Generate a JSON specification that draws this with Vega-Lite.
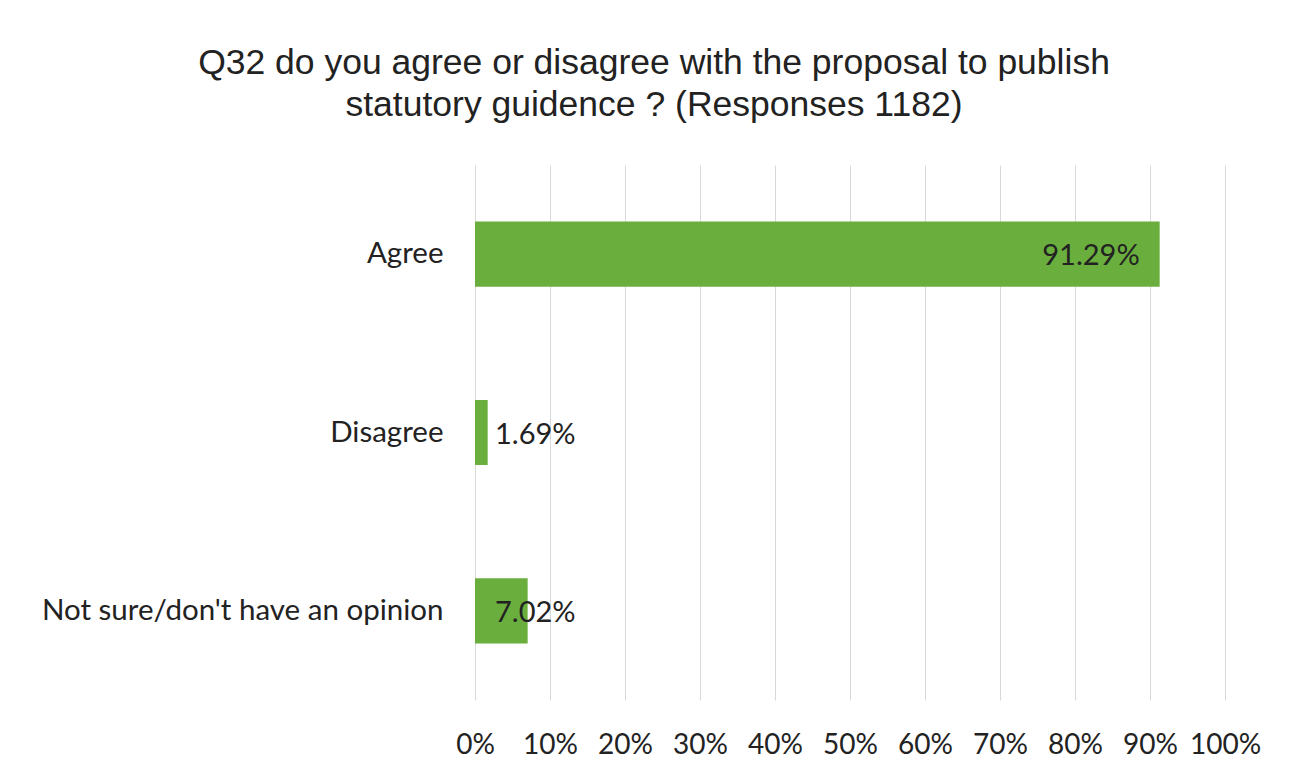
{
  "$schema": "https://vega.github.io/schema/vega-lite/v6.json",
  "width": 750,
  "height": 535,
  "autosize": "none",
  "padding": {"left": 475, "top": 165, "right": 76, "bottom": 76},
  "background": "white",
  "title": {
    "text": ["Q32 do you agree or disagree with the proposal to publish", "statutory guidence ? (Responses 1182)"],
    "font": "Liberation Sans",
    "fontSize": 35.5,
    "fontWeight": "normal",
    "color": "#222222",
    "anchor": "middle",
    "dx": -196,
    "offset": 42,
    "lineHeight": 42
  },
  "data": {
    "values": [
      {"response": "Agree", "share": 0.9129},
      {"response": "Disagree", "share": 0.0169},
      {"response": "Not sure/don't have an opinion", "share": 0.0702}
    ]
  },
  "encoding": {
    "y": {
      "field": "response",
      "type": "nominal",
      "sort": null,
      "title": null,
      "scale": {"paddingInner": 0.635, "paddingOuter": 0.3175},
      "axis": {
        "domain": false,
        "ticks": false,
        "labelPadding": 32,
        "labelFont": "Lato",
        "labelFontSize": 29.5,
        "labelColor": "#222222",
        "labelLimit": 500
      }
    }
  },
  "layer": [
    {
      "mark": {"type": "bar", "color": "#6aae3e"},
      "encoding": {
        "x": {
          "field": "share",
          "type": "quantitative",
          "title": null,
          "scale": {"domain": [0, 1], "nice": false},
          "axis": {
            "values": [0, 0.1, 0.2, 0.3, 0.4, 0.5, 0.6, 0.7, 0.8, 0.9, 1],
            "format": ".0%",
            "domain": false,
            "ticks": false,
            "grid": true,
            "gridColor": "#d9d9d9",
            "gridWidth": 1,
            "labelOverlap": false,
            "labelFlush": false,
            "labelPadding": 31,
            "labelFont": "Lato",
            "labelFontSize": 28,
            "labelColor": "#222222"
          }
        }
      }
    },
    {
      "transform": [{"filter": "datum.share > 0.5"}],
      "mark": {"type": "text", "align": "right", "baseline": "middle", "dx": -20, "dy": 2, "font": "Lato", "fontSize": 29, "color": "#222222"},
      "encoding": {
        "x": {"field": "share", "type": "quantitative"},
        "text": {"field": "share", "type": "quantitative", "format": ".2%"}
      }
    },
    {
      "transform": [{"filter": "datum.share <= 0.5"}],
      "mark": {"type": "text", "align": "left", "baseline": "middle", "dx": 20, "dy": 2, "font": "Lato", "fontSize": 29, "color": "#222222"},
      "encoding": {
        "x": {"datum": 0, "type": "quantitative"},
        "text": {"field": "share", "type": "quantitative", "format": ".2%"}
      }
    }
  ],
  "config": {"view": {"stroke": null}}
}
